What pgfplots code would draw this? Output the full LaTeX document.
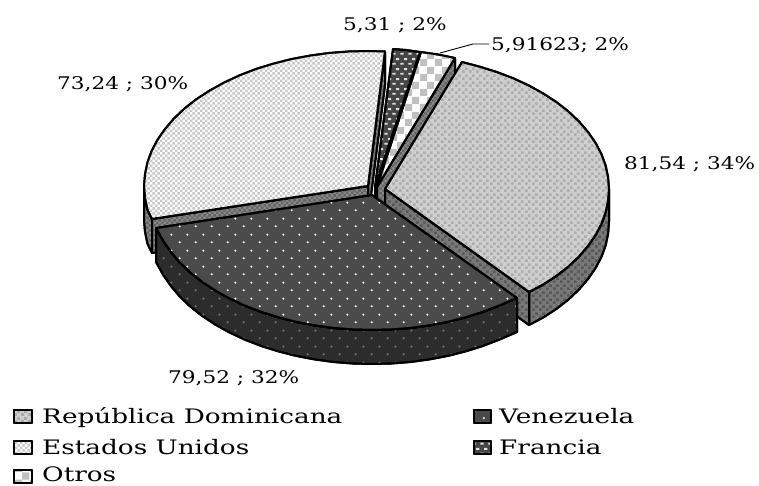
\documentclass[border=0pt]{standalone}
\usepackage{pgfplots}
\pgfplotsset{compat=1.18}
\usepackage{fontspec}
\setmainfont{DejaVu Serif}
\newfontfamily\lblfont[FakeStretch=1.24]{DejaVu Serif}
\newfontfamily\legfont[FakeStretch=1.32]{DejaVu Serif}
\usetikzlibrary{patterns}
\pgfdeclarepatternformonly{rdp}{\pgfqpoint{0bp}{0bp}}{\pgfqpoint{7bp}{7bp}}{\pgfqpoint{7bp}{7bp}}{%
 \pgfpathrectangle{\pgfqpoint{0bp}{0bp}}{\pgfqpoint{3bp}{3bp}}%
 \pgfpathrectangle{\pgfqpoint{3.5bp}{3.5bp}}{\pgfqpoint{3bp}{3bp}}\pgfusepath{fill}}
\pgfdeclarepatternformonly{usp}{\pgfqpoint{0bp}{0bp}}{\pgfqpoint{5.4bp}{5.4bp}}{\pgfqpoint{5.4bp}{5.4bp}}{%
 \pgfpathrectangle{\pgfqpoint{0bp}{0bp}}{\pgfqpoint{2.7bp}{2.7bp}}%
 \pgfpathrectangle{\pgfqpoint{2.7bp}{2.7bp}}{\pgfqpoint{2.7bp}{2.7bp}}\pgfusepath{fill}}
\pgfdeclarepatternformonly{otp}{\pgfqpoint{0bp}{0bp}}{\pgfqpoint{15bp}{15bp}}{\pgfqpoint{15bp}{15bp}}{%
 \pgfpathrectangle{\pgfqpoint{0bp}{0bp}}{\pgfqpoint{7.5bp}{7.5bp}}%
 \pgfpathrectangle{\pgfqpoint{7.5bp}{7.5bp}}{\pgfqpoint{7.5bp}{7.5bp}}\pgfusepath{fill}}
\pgfdeclarepatternformonly{vep}{\pgfqpoint{0bp}{0bp}}{\pgfqpoint{16bp}{16bp}}{\pgfqpoint{16bp}{16bp}}{%
 \pgfpathcircle{\pgfqpoint{4bp}{4bp}}{1.25bp}%
 \pgfpathcircle{\pgfqpoint{12bp}{12bp}}{1.25bp}\pgfusepath{fill}}
\pgfdeclarepatternformonly{frp}{\pgfqpoint{0bp}{0bp}}{\pgfqpoint{8bp}{10bp}}{\pgfqpoint{8bp}{10bp}}{%
 \pgfpathrectangle{\pgfqpoint{0.5bp}{1.5bp}}{\pgfqpoint{3.5bp}{2bp}}%
 \pgfpathrectangle{\pgfqpoint{4.5bp}{6.5bp}}{\pgfqpoint{3.5bp}{2bp}}\pgfusepath{fill}}
\tikzset{
 rdtop/.style={preaction={fill={rgb,255:red,206;green,206;blue,206}},pattern=rdp,pattern color={rgb,255:red,172;green,172;blue,172}},
 rdwall/.style={preaction={fill={rgb,255:red,120;green,120;blue,120}},pattern=rdp,pattern color={rgb,255:red,88;green,88;blue,88}},
 ustop/.style={preaction={fill=white},pattern=usp,pattern color={rgb,255:red,200;green,200;blue,200}},
 uswall/.style={preaction={fill={rgb,255:red,136;green,136;blue,136}},pattern=usp,pattern color={rgb,255:red,100;green,100;blue,100}},
 ottop/.style={preaction={fill=white},pattern=otp,pattern color={rgb,255:red,192;green,192;blue,192}},
 otwall/.style={preaction={fill={rgb,255:red,136;green,136;blue,136}},pattern=usp,pattern color={rgb,255:red,100;green,100;blue,100}},
 vetop/.style={preaction={fill={rgb,255:red,74;green,74;blue,74}},pattern=vep,pattern color=white},
 vewall/.style={preaction={fill={rgb,255:red,44;green,44;blue,44}},pattern=vep,pattern color={rgb,255:red,120;green,120;blue,120}},
 frtop/.style={preaction={fill={rgb,255:red,70;green,70;blue,70}},pattern=frp,pattern color={rgb,255:red,225;green,225;blue,225}},
 frwall/.style={preaction={fill={rgb,255:red,50;green,50;blue,50}}},
}
\newcommand{\lbl}[3]{\node[anchor=base west,inner sep=0pt,font=\lblfont\fontsize{17.5}{20}\selectfont] at (axis cs:#1,#2) {#3};}
\newcommand{\leg}[3]{\node[anchor=base west,inner sep=0pt,font=\legfont\fontsize{20}{22}\selectfont] at (axis cs:#1,#2) {#3};}
\begin{document}
\begin{tikzpicture}
\begin{axis}[scale only axis,width=759bp,height=486bp,xmin=0,xmax=759,ymin=0,ymax=486,y dir=reverse,
 hide axis,clip=false,
 every axis plot/.append style={no markers,sharp plot,forget plot,draw=black,line width=2bp,line join=round}]
\path[use as bounding box] (rel axis cs:0,0) rectangle (rel axis cs:1,1);
% Estados Unidos: walls then top
\addplot[uswall] coordinates {(144,186)(145,197.7)(147.4,209.5)(152,219)(152,253)(147.4,243.5)(145,231.7)(144,220)} --cycle;
\addplot[uswall] coordinates {(152,219)(368,186)(368,219)(152,253)} --cycle;
\addplot[uswall] coordinates {(385,52)(385,85)(368,219)(368,186)} --cycle;
\addplot[ustop] coordinates {(368,186)(152,219)(147.4,209.5)(145,197.7)(144,186)(145,174.3)(147.4,162.5)(151.6,151)(157.5,139.8)(165,129)(174,118.5)(184.5,108.5)(196.4,99.2)(209.6,90.6)(224,82.6)(239.4,75.4)(256,69)(273.2,63.7)(291.4,59.1)(310,55.6)(329,53)(348.5,51.5)(368,51)(385,51.5)} --cycle;
% Francia
\addplot[frwall] coordinates {(420,52)(420,85)(375,220)(375,187)} --cycle;
\addplot[frtop] coordinates {(375,187)(393,49)(406,50)(420,52)} --cycle;
% Otros
\addplot[otwall] coordinates {(455,58)(455,91)(377,220)(377,187)} --cycle;
\addplot[ottop] coordinates {(377,187)(421,52)(438,54.5)(455,58)} --cycle;
% Republica Dominicana
\addplot[rdwall] coordinates {(609,189)(608.1,200.7)(605.6,212.5)(601.4,224)(595.5,235.2)(588,246)(579,256.5)(568.5,266.5)(556.6,275.8)(543.4,284.4)(529,292)(529,325)(543.4,317.4)(556.6,308.8)(568.5,299.5)(579,289.5)(588,279)(595.5,268.2)(601.4,257)(605.6,245.5)(608.1,233.7)(609,222)} --cycle;
\addplot[rdwall] coordinates {(385,189)(529,292)(529,325)(385,222)} --cycle;
\addplot[rdtop] coordinates {(385,189)(462,62)(479.8,66.7)(497,72.1)(513.6,78.4)(529,85.6)(543.4,93.6)(556.6,102.2)(568.5,111.5)(579,121.5)(588,132)(595.5,142.8)(601.4,154)(605.6,165.5)(608.1,177.3)(609,189)(608.1,200.7)(605.6,212.5)(601.4,224)(595.5,235.2)(588,246)(579,256.5)(568.5,266.5)(556.6,275.8)(543.4,284.4)(529,292)} --cycle;
% Venezuela
\addplot[vewall] coordinates {(517,298)(499.4,305.6)(483,311.9)(465.9,317.3)(447.9,321.9)(429.5,325.4)(410.6,328)(391.3,329.5)(372,330)(352.7,329.5)(333.4,328)(314.5,325.4)(296.1,321.9)(278.1,317.3)(261,311.9)(244.6,305.6)(229.3,298.4)(215,290.4)(202,281.8)(190.2,272.5)(179.7,262.5)(170.9,252)(163.4,241.2)(156,228)
(156,262)(163.4,275.2)(170.9,286)(179.7,296.5)(190.2,306.5)(202,315.8)(215,324.4)(229.3,332.4)(244.6,339.6)(261,345.9)(278.1,351.3)(296.1,355.9)(314.5,359.4)(333.4,362)(352.7,363.5)(372,364)(391.3,363.5)(410.6,362)(429.5,359.4)(447.9,355.9)(465.9,351.3)(483,345.9)(499.4,339.6)(517,332)} --cycle;
\addplot[vetop] coordinates {(372,195)(517,298)(499.4,305.6)(483,311.9)(465.9,317.3)(447.9,321.9)(429.5,325.4)(410.6,328)(391.3,329.5)(372,330)(352.7,329.5)(333.4,328)(314.5,325.4)(296.1,321.9)(278.1,317.3)(261,311.9)(244.6,305.6)(229.3,298.4)(215,290.4)(202,281.8)(190.2,272.5)(179.7,262.5)(170.9,252)(163.4,241.2)(156,228)} --cycle;
% leader
\addplot[line width=0.9bp] coordinates {(440,53)(473,44)(489,44)};
% legend swatches
\addplot[rdtop] coordinates {(14,410)(32,410)(32,423)(14,423)} --cycle;
\addplot[ustop] coordinates {(14,441)(32,441)(32,454)(14,454)} --cycle;
\addplot[ottop] coordinates {(14,470)(32,470)(32,483)(14,483)} --cycle;
\addplot[vetop] coordinates {(474,410)(491,410)(491,423)(474,423)} --cycle;
\addplot[frtop] coordinates {(474,441)(491,441)(491,454)(474,454)} --cycle;
% labels
\lbl{343}{31}{5,31 ; 2\%}
\lbl{491}{51}{5,91623; 2\%}
\lbl{57}{90}{73,24 ; 30\%}
\lbl{624}{169}{81,54 ; 34\%}
\lbl{168}{383}{79,52 ; 32\%}
\leg{42}{423}{República Dominicana}
\leg{42}{454}{Estados Unidos}
\leg{42}{481}{Otros}
\leg{499}{423}{Venezuela}
\leg{499}{454}{Francia}
\end{axis}
\end{tikzpicture}
\end{document}
